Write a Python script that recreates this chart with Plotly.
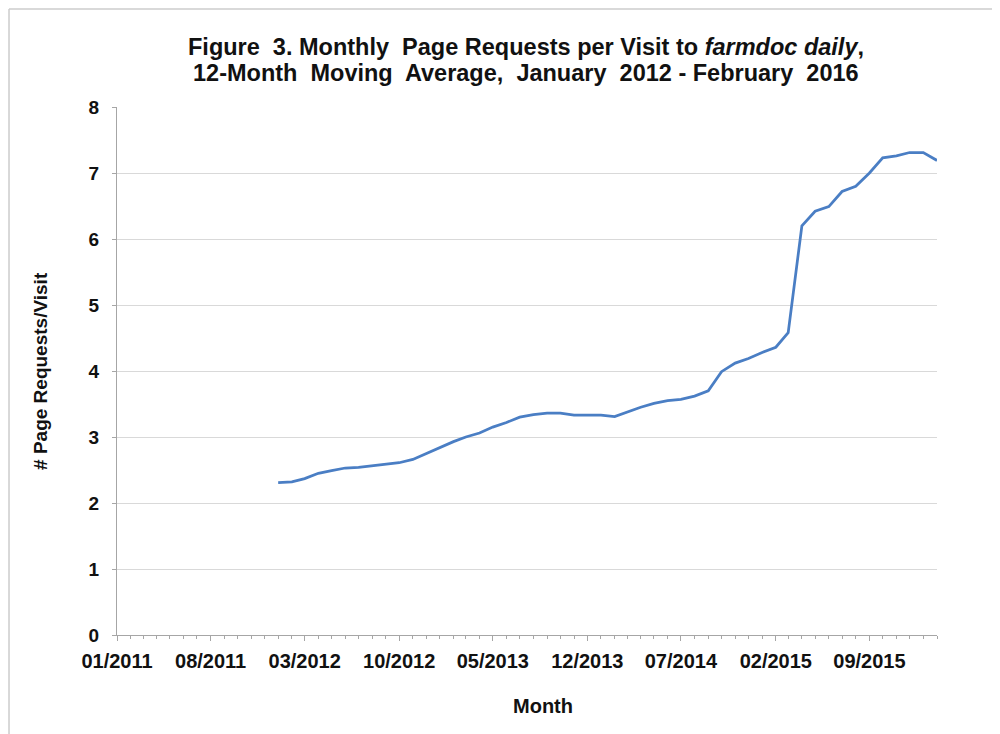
import plotly.graph_objects as go

months = [
    "2012-01", "2012-02", "2012-03", "2012-04", "2012-05", "2012-06",
    "2012-07", "2012-08", "2012-09", "2012-10", "2012-11", "2012-12",
    "2013-01", "2013-02", "2013-03", "2013-04", "2013-05", "2013-06",
    "2013-07", "2013-08", "2013-09", "2013-10", "2013-11", "2013-12",
    "2014-01", "2014-02", "2014-03", "2014-04", "2014-05", "2014-06",
    "2014-07", "2014-08", "2014-09", "2014-10", "2014-11", "2014-12",
    "2015-01", "2015-02", "2015-03", "2015-04", "2015-05", "2015-06",
    "2015-07", "2015-08", "2015-09", "2015-10", "2015-11", "2015-12",
    "2016-01", "2016-02",
]
requests_per_visit = [
    2.31, 2.32, 2.37, 2.45, 2.49, 2.53, 2.54, 2.56, 2.59, 2.61, 2.66, 2.75,
    2.84, 2.93, 3.00, 3.06, 3.15, 3.22, 3.30, 3.34, 3.36, 3.36, 3.33, 3.33,
    3.33, 3.31, 3.38, 3.45, 3.51, 3.55, 3.57, 3.62, 3.70, 3.99, 4.12, 4.19,
    4.28, 4.36, 4.58, 6.20, 6.42, 6.49, 6.72, 6.80, 7.00, 7.23, 7.26, 7.31,
    7.31, 7.19,
]
y_ticks = [0, 1, 2, 3, 4, 5, 6, 7, 8]

title_line1 = "Figure  3. Monthly  Page Requests per Visit to <i>farmdoc daily</i>,"
title_line2 = "12-Month  Moving  Average,  January  2012 - February  2016"

FONT = "Liberation Sans, Arial, sans-serif"
INK = "#111111"

fig = go.Figure()
fig.add_trace(go.Scatter(
    x=[m + "-01" for m in months],
    y=requests_per_visit,
    mode="lines",
    line=dict(color="#4A7EC4", width=2.75),
    showlegend=False,
))

fig.update_layout(
    width=1000, height=734,
    margin=dict(l=109, r=71, t=99, b=107),
    paper_bgcolor="white", plot_bgcolor="white",
    font=dict(family=FONT, color=INK),
    xaxis=dict(
        type="date",
        range=["2011-01-01", "2016-02-01"],
        tick0="2011-01-01", dtick="M7", tickformat="<b>%m/%Y</b>",
        ticks="outside", ticklen=5, tickcolor="#A6A6A6",
        ticklabelstandoff=3,
        minor=dict(dtick="M1", ticks="outside", ticklen=3, tickcolor="#A6A6A6"),
        showline=True, linecolor="#A6A6A6", linewidth=1,
        showgrid=False, zeroline=False,
        tickfont=dict(family=FONT, size=20, color=INK),
    ),
    yaxis=dict(
        range=[0, 8], tickvals=y_ticks,
        ticktext=["<b>%d</b>" % v for v in y_ticks],
        ticks="outside", ticklen=4, tickcolor="#A6A6A6",
        ticklabelstandoff=9,
        showline=True, linecolor="#A6A6A6", linewidth=1,
        showgrid=True, gridcolor="#D9D9D9", gridwidth=1,
        zeroline=False,
        tickfont=dict(family=FONT, size=19, color=INK),
    ),
    annotations=[
        dict(text="<b>" + title_line1 + "</b>", x=0.499, xref="paper",
             y=1.1136, yref="paper", xanchor="center", yanchor="middle",
             showarrow=False, font=dict(family=FONT, size=23.5, color=INK)),
        dict(text="<b>" + title_line2 + "</b>", x=0.499, xref="paper",
             y=1.0644, yref="paper", xanchor="center", yanchor="middle",
             showarrow=False, font=dict(family=FONT, size=23.5, color=INK)),
        dict(text="<b>Month</b>", x=0.52, xref="paper", y=-0.1345, yref="paper",
             xanchor="center", yanchor="middle", showarrow=False,
             font=dict(family=FONT, size=20, color=INK)),
        dict(text="<b># Page Requests/Visit</b>", x=-0.094, xref="paper",
             y=0.5, yref="paper", textangle=-90, xanchor="center",
             yanchor="middle", showarrow=False,
             font=dict(family=FONT, size=19, color=INK)),
    ],
    shapes=[
        dict(type="line", xref="paper", yref="paper", x0=-0.1317, x1=1.09,
             y0=1.1856, y1=1.1856, line=dict(color="#CCCCCC", width=1.5)),
        dict(type="line", xref="paper", yref="paper", x0=-0.1317, x1=-0.1317,
             y0=1.1856, y1=-0.21, line=dict(color="#CCCCCC", width=1.5)),
    ],
)

fig.write_html("out.html")
